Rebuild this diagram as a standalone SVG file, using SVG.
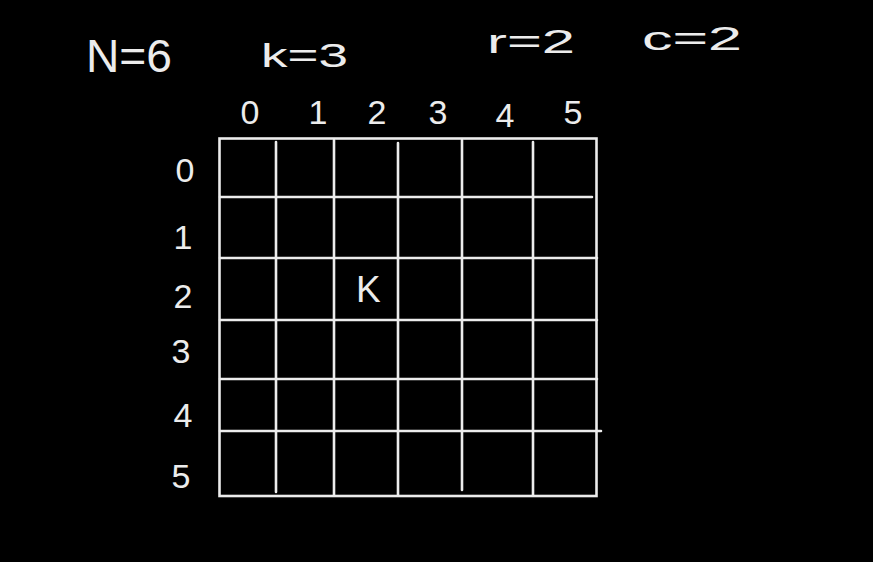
<svg xmlns="http://www.w3.org/2000/svg" width="873" height="562" viewBox="0 0 873 562">
  <style>
    .t { font-family: "Liberation Sans", Arial, sans-serif; fill: #ececec; }
    .big { font-size: 46px; }
    .mid { font-size: 34px; }
    .lbl { font-size: 34px; text-anchor: middle; }
    .g { stroke: #ececec; stroke-width: 2.6; fill: none; stroke-linecap: round; }
  </style>
  <rect width="873" height="562" fill="#000"/>
  <g id="params">
    <text class="t big" x="86" y="72" textLength="86" lengthAdjust="spacingAndGlyphs">N=6</text>
    <text class="t mid" x="261" y="67" textLength="87" lengthAdjust="spacingAndGlyphs">k=3</text>
    <text class="t mid" x="487" y="53" textLength="88" lengthAdjust="spacingAndGlyphs">r=2</text>
    <text class="t mid" x="642" y="50" textLength="100" lengthAdjust="spacingAndGlyphs">c=2</text>
  </g>
  <g id="col-labels">
    <text class="t lbl" x="250" y="124">0</text>
    <text class="t lbl" x="318" y="124">1</text>
    <text class="t lbl" x="377" y="124">2</text>
    <text class="t lbl" x="438" y="124">3</text>
    <text class="t lbl" x="505" y="127">4</text>
    <text class="t lbl" x="573" y="124">5</text>
  </g>
  <g id="row-labels">
    <text class="t lbl" x="185" y="182">0</text>
    <text class="t lbl" x="183" y="249">1</text>
    <text class="t lbl" x="183" y="308">2</text>
    <text class="t lbl" x="181" y="363">3</text>
    <text class="t lbl" x="183" y="427">4</text>
    <text class="t lbl" x="181" y="488">5</text>
  </g>
  <g id="grid">
    <rect class="g" x="219.5" y="138.5" width="377" height="357.5"/>
    <path class="g" d="M276 142 V492 M334 140 V495 M398 143 V495 M462 140 V490 M533 142 V495"/>
    <path class="g" d="M220 197 H592 M220 258 H597 M220 320 H597 M220 379 H597 M220 431 H601"/>
  </g>
  <g id="cell-k">
    <text class="t" x="356" y="302" font-size="37">K</text>
  </g>
</svg>
